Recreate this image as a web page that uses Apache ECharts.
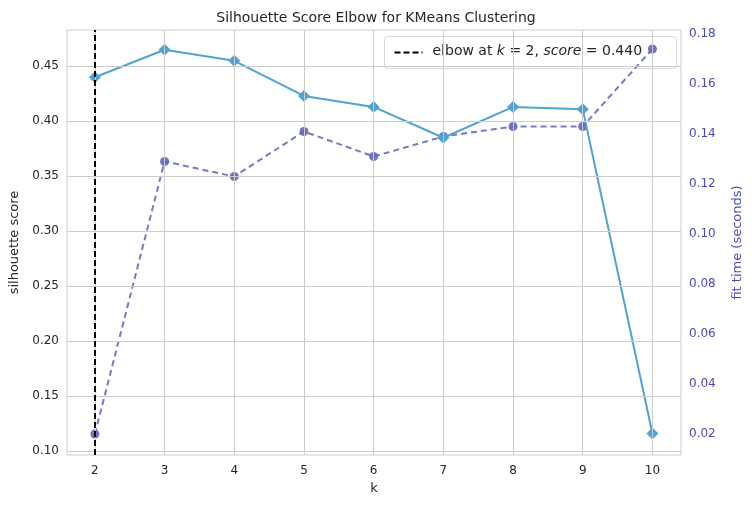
<!DOCTYPE html>
<html><head><meta charset="utf-8">
<script src="https://cdn.jsdelivr.net/npm/echarts@6/dist/echarts.min.js"></script>
<style>html,body{margin:0;padding:0;background:#fff}#c{width:752px;height:507px}</style>
</head><body><div id="c"></div>
<script>
const ks = [2,3,4,5,6,7,8,9,10];
const silhouette = [0.440,0.465,0.455,0.423,0.413,0.385,0.413,0.411,0.116];
const fitTime = [0.020,0.129,0.123,0.141,0.131,0.139,0.143,0.143,0.174];
const leftTicks = [0.10,0.15,0.20,0.25,0.30,0.35,0.40,0.45];
const rightTicks = [0.02,0.04,0.06,0.08,0.10,0.12,0.14,0.16,0.18];
const elbowK = 2, elbowScore = 0.440;

const font = 'DejaVu Sans';
const grid = {left:67,right:66,top:30,bottom:52,show:true,borderColor:'#cccccc',borderWidth:1};
const gridLineStyle = {color:'#cccccc',width:1,type:'solid'};
const chart = echarts.init(document.getElementById('c'));
chart.setOption({
  animation:false,
  backgroundColor:'#fff',
  title:{text:'Silhouette Score Elbow for KMeans Clustering',left:'center',top:6,
    textStyle:{fontFamily:font,fontSize:14,fontWeight:'normal',color:'#262626'}},
  legend:{show:false},
  graphic:[{type:'group',right:75,top:36,children:[
    {type:'rect',shape:{x:0,y:0,width:292,height:32,r:3},style:{fill:'rgba(255,255,255,0.85)',stroke:'#d9d9d9',lineWidth:1}},
    {type:'line',shape:{x1:10,y1:16,x2:38,y2:16},style:{stroke:'#000',lineWidth:2,lineDash:[6,3]}},
    {type:'text',x:48,y:8,style:{rich:{n:{fontFamily:font,fontSize:14,fill:'#262626'},i:{fontFamily:font,fontSize:14,fontStyle:'italic',fill:'#262626'}},
      text:'{n|elbow at }{i|k}{n| = 2, }{i|score}{n| = '+elbowScore.toFixed(3)+'}'}}
  ]}],
  grid,
  xAxis:{type:'value',min:1.6,max:10.41,name:'k',nameLocation:'middle',nameGap:27,
    nameTextStyle:{fontFamily:font,fontSize:13,color:'#262626'},
    axisLine:{show:false},axisTick:{show:false},splitLine:{show:false},
    axisLabel:{customValues:ks,fontFamily:font,fontSize:12,color:'#262626',margin:10}},
  yAxis:[
    {type:'value',min:0.0964,max:0.483,name:'silhouette score',nameLocation:'middle',nameGap:46,
     nameTextStyle:{fontFamily:font,fontSize:13,color:'#262626'},
     axisLine:{show:false},axisTick:{show:false},splitLine:{show:false},
     axisLabel:{customValues:leftTicks,formatter:v=>v.toFixed(2),fontFamily:font,fontSize:12,color:'#262626'}},
    {type:'value',min:0.0116,max:0.1816,position:'right',name:'fit time (seconds)',nameLocation:'middle',nameGap:50,nameRotate:90,
     nameTextStyle:{fontFamily:font,fontSize:13,color:'#4b4bb8'},
     axisLine:{show:false},axisTick:{show:false},splitLine:{show:false},
     axisLabel:{customValues:rightTicks,formatter:v=>v.toFixed(2),fontFamily:font,fontSize:12,color:'#4b4bb8'}}
  ],
  series:[
    {type:'line',data:[],xAxisIndex:0,yAxisIndex:0,silent:true,
     markLine:{symbol:'none',silent:true,label:{show:false},lineStyle:gridLineStyle,
       data:[...ks.map(k=>({xAxis:k})),...leftTicks.map(v=>({yAxis:v}))]}},
    {name:'fit time',type:'line',yAxisIndex:1,data:ks.map((k,i)=>[k,fitTime[i]]),
     symbol:'circle',symbolSize:9,
     lineStyle:{color:'#7679c6',width:2,type:[6,4]},itemStyle:{color:'#6366b9',borderWidth:0,opacity:0.9},z:3},
    {name:'silhouette',type:'line',yAxisIndex:0,data:ks.map((k,i)=>[k,silhouette[i]]),
     symbol:'diamond',symbolSize:12,
     lineStyle:{color:'#50a2d0',width:2},itemStyle:{color:'#50a2d0',borderWidth:0},z:4,
     markLine:{symbol:'none',silent:true,label:{show:false},lineStyle:{color:'#000',width:2,type:[6,3]},
       data:[{xAxis:elbowK}]}}
  ]
});
</script></body></html>
